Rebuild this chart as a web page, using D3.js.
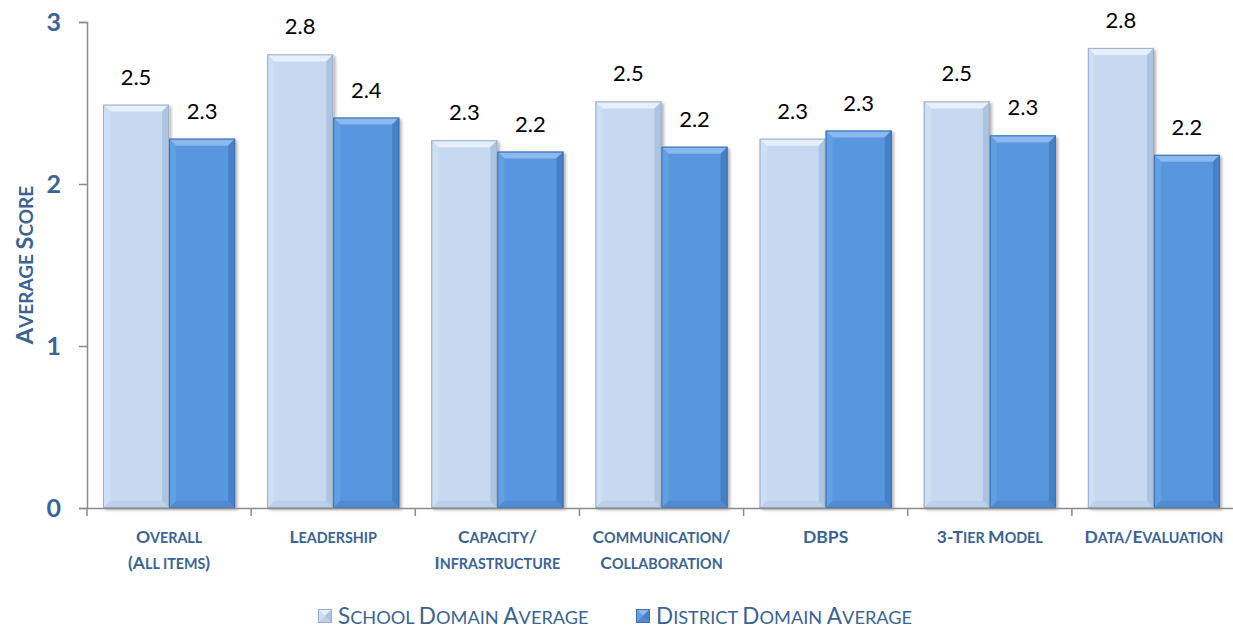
<!DOCTYPE html>
<html>
<head>
<meta charset="utf-8">
<script src="https://cdn.jsdelivr.net/npm/d3@7"></script>
<style>
  body { margin: 0; background: #fff; }
  text { font-family: Lato, "Open Sans", sans-serif; }
</style>
</head>
<body>
<div id="chart"></div>
<script>
// categories and series
var categories = ["Overall|(All items)", "Leadership", "Capacity/|Infrastructure",
  "Communication/|Collaboration", "DBPS", "3-Tier Model", "Data/Evaluation"];
var schoolAvg = [2.49, 2.80, 2.27, 2.51, 2.28, 2.51, 2.84];
var districtAvg = [2.28, 2.41, 2.20, 2.23, 2.33, 2.30, 2.18];
var seriesNames = ["School Domain Average", "District Domain Average"];
var yTicks = [0, 1, 2, 3];

var W = 1233, H = 629;
var margin = {top: 22, right: -3, bottom: 121, left: 87},
    width = W - margin.left - margin.right,
    height = H - margin.top - margin.bottom;

var blue = "#3a6494";

var svg = d3.select("#chart").append("svg")
    .attr("width", W)
    .attr("height", H);

var defs = svg.append("defs");
defs.append("filter").attr("id", "shadow")
    .attr("x", "-10%").attr("y", "-10%").attr("width", "130%").attr("height", "130%")
  .append("feDropShadow")
    .attr("dx", 2).attr("dy", 2).attr("stdDeviation", 1.5)
    .attr("flood-color", "#000").attr("flood-opacity", 0.3);

var g = svg.append("g")
    .attr("transform", "translate(" + margin.left + "," + margin.top + ")");

var x0 = d3.scaleBand().domain(d3.range(categories.length)).range([0, width]);
var x1 = d3.scaleBand().domain([0, 1]).range([16, x0.bandwidth() - 16]);
var y = d3.scaleLinear().domain([0, 3]).range([height, 0]);

var styles = [
  {base: "#c6d9f1", top: "#e6effa", left: "#cfdff3", right: "#adc3df", bottom: "#bcd0ea", stroke: "#98aecb"},
  {base: "#5896de", top: "#8ab8ef", left: "#62a0e4", right: "#4580c8", bottom: "#4f8ad2", stroke: "#3d70b0"}
];

var bev = 7;
function drawBar(sel, x, w, y0, y1, st) {
  var h = y1 - y0;
  var b = Math.min(bev, h / 2, w / 2);
  var grp = sel.append("g").attr("filter", "url(#shadow)");
  grp.append("rect").attr("x", x).attr("y", y0).attr("width", w).attr("height", h)
    .attr("fill", st.base);
  grp.append("polygon").attr("fill", st.top)
    .attr("points", [[x, y0], [x + w, y0], [x + w - b, y0 + b], [x + b, y0 + b]].join(" "));
  grp.append("polygon").attr("fill", st.left)
    .attr("points", [[x, y0], [x + b, y0 + b], [x + b, y1 - b], [x, y1]].join(" "));
  grp.append("polygon").attr("fill", st.right)
    .attr("points", [[x + w, y0], [x + w, y1], [x + w - b, y1 - b], [x + w - b, y0 + b]].join(" "));
  grp.append("polygon").attr("fill", st.bottom)
    .attr("points", [[x, y1], [x + b, y1 - b], [x + w - b, y1 - b], [x + w, y1]].join(" "));
  grp.append("rect").attr("x", x + 0.5).attr("y", y0 + 0.5).attr("width", w - 1).attr("height", h - 1)
    .attr("fill", "none").attr("stroke", st.stroke).attr("stroke-width", 1);
  return grp;
}

// manual small caps: lowercase letters become smaller capitals
function smallCaps(textSel, str, big, small) {
  var runs = [];
  for (var i = 0; i < str.length; i++) {
    var ch = str[i];
    var isLow = ch !== ch.toUpperCase() || (ch === " " && i > 0 && str[i - 1] !== str[i - 1].toUpperCase());
    var sz = isLow ? small : big;
    if (runs.length && runs[runs.length - 1].sz === sz) runs[runs.length - 1].t += ch.toUpperCase();
    else runs.push({sz: sz, t: ch.toUpperCase()});
  }
  runs.forEach(function(r) {
    textSel.append("tspan").style("font-size", r.sz + "px").text(r.t);
  });
}

var fmt = d3.format(".1f");
[schoolAvg, districtAvg].forEach(function(vals, s) {
  vals.forEach(function(v, i) {
    var bx = x0(i) + x1(s);
    drawBar(g, bx, x1.bandwidth(), y(v), y(0), styles[s]);
    g.append("text")
      .attr("x", bx + x1.bandwidth() / 2)
      .attr("y", y(v) - 20)
      .attr("text-anchor", "middle")
      .style("font-size", "22px")
      .style("fill", "#000")
      .text(fmt(v));
  });
});

// Y axis
var yAxis = g.append("g")
    .call(d3.axisLeft(y).tickValues(yTicks).tickFormat(d3.format("d")).tickSize(8).tickPadding(18));
yAxis.selectAll("text")
    .style("font-size", "25px").style("font-weight", "bold").style("fill", blue);

// X axis
var xAxis = g.append("g")
    .attr("transform", "translate(0," + height + ")")
    .call(d3.axisBottom(x0).tickValues([]).tickSizeOuter(0));
xAxis.selectAll(".bnd").data(d3.range(categories.length + 1)).enter()
  .append("line").attr("class", "bnd")
    .attr("x1", function(d) { return d * x0.bandwidth(); })
    .attr("x2", function(d) { return d * x0.bandwidth(); })
    .attr("y1", 0).attr("y2", 8);

svg.selectAll(".domain, .tick line, .bnd")
    .attr("stroke", "#8c8c8c").attr("stroke-width", 1.5);

// category labels
categories.forEach(function(c, i) {
  c.split("|").forEach(function(line, k) {
    var t = g.append("text")
      .attr("x", x0(i) + x0.bandwidth() / 2)
      .attr("y", height + 35 + k * 26)
      .attr("text-anchor", "middle")
      .style("font-weight", "bold").style("fill", blue);
    smallCaps(t, line, 17.5, 14.3);
  });
});

// y axis title
var yt = svg.append("text")
    .attr("transform", "translate(33," + (margin.top + height / 2) + ") rotate(-90)")
    .attr("text-anchor", "middle")
    .style("font-weight", "bold").style("fill", blue);
smallCaps(yt, "Average Score", 23.5, 19);

// legend
var legendX = [318, 636];
seriesNames.forEach(function(name, s) {
  var lg = svg.append("g").attr("transform", "translate(" + legendX[s] + ",609)");
  drawBar(lg, 0, 14, 0, 14, styles[s]).attr("filter", null);
  var lt = lg.append("text").attr("x", 20).attr("y", 15).style("fill", blue);
  smallCaps(lt, name, 22.5, 18.2);
});
</script>
</body>
</html>
